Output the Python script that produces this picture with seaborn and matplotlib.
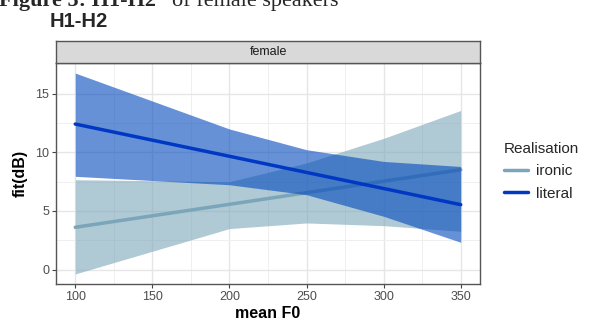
import matplotlib
matplotlib.use("Agg")
import matplotlib.pyplot as plt
import numpy as np
import pandas as pd
import seaborn as sns

# effect estimates
mean_f0 = [100, 200, 250, 300, 350]
ironic_fit = [3.61, 5.57, 6.56, 7.54, 8.52]
ironic_lower = [-0.37, 3.50, 3.98, 3.75, 3.27]
ironic_upper = [7.67, 7.50, 9.10, 11.20, 13.58]
literal_fit = [12.42, 9.67, 8.29, 6.92, 5.54]
literal_lower = [7.96, 7.24, 6.39, 4.55, 2.33]
literal_upper = [16.77, 12.00, 10.23, 9.23, 8.80]

realisations = ["ironic", "literal"]
line_colors = {"ironic": "#7BA5B9", "literal": "#0038C4"}
fill_colors = {"ironic": "#7BA5B9", "literal": "#0048BC"}
layer = {"ironic": 1.5, "literal": 2.5}

df = pd.concat(
    [
        pd.DataFrame({"mean F0": mean_f0, "fit": ironic_fit, "lower": ironic_lower,
                      "upper": ironic_upper, "Realisation": "ironic"}),
        pd.DataFrame({"mean F0": mean_f0, "fit": literal_fit, "lower": literal_lower,
                      "upper": literal_upper, "Realisation": "literal"}),
    ],
    ignore_index=True,
)

sns.set_theme(style="white")
plt.rcParams["font.family"] = ["Liberation Sans", "DejaVu Sans"]

W, H = 592, 325
fig = plt.figure(figsize=(W / 100, H / 100), dpi=100)

left, right, top, bottom = 56, 480, 63, 284
ax = fig.add_axes([left / W, (H - bottom) / H, (right - left) / W, (bottom - top) / H])
strip = fig.add_axes([left / W, (H - top) / H, (right - left) / W, 22 / H])

for name in realisations:
    sub = df[df["Realisation"] == name]
    ax.fill_between(sub["mean F0"], sub["lower"], sub["upper"],
                    color=fill_colors[name], alpha=0.6, linewidth=0, zorder=layer[name])
    sns.lineplot(data=sub, x="mean F0", y="fit", color=line_colors[name],
                 linewidth=2.2, ax=ax, label=name, zorder=layer[name] + 0.2)

ax.set_xlim(87.5, 362.5)
ax.set_ylim(-1.23, 17.63)
ax.set_xticks([100, 150, 200, 250, 300, 350])
ax.set_yticks([0, 5, 10, 15])
ax.set_xticks([125, 175, 225, 275, 325], minor=True)
ax.set_yticks([2.5, 7.5, 12.5], minor=True)
ax.grid(True, which="major", color="#E6E6E6", linewidth=1.0, zorder=0)
ax.grid(True, which="minor", color="#EFEFEF", linewidth=0.7, zorder=0)
ax.set_axisbelow(True)
for s in ax.spines.values():
    s.set_color("#555555")
    s.set_linewidth(1.0)
ax.tick_params(axis="both", which="major", length=3, width=0.8, color="#444444",
               labelsize=9, labelcolor="#4D4D4D", pad=2, bottom=True, left=True)
ax.tick_params(axis="both", which="minor", length=0)
ax.set_xlabel("mean F0", fontsize=11.5, fontweight="bold", color="black", labelpad=2)
ax.set_ylabel("fit(dB)", fontsize=11.5, fontweight="bold", color="black", labelpad=5)

strip.set_facecolor("#D9D9D9")
strip.set_xticks([])
strip.set_yticks([])
for s in strip.spines.values():
    s.set_color("#555555")
    s.set_linewidth(1.0)
strip.text(0.5, 0.5, "female", ha="center", va="center", fontsize=9, color="#1A1A1A")

handles, labels = ax.get_legend_handles_labels()
for h in handles:
    h.set_linewidth(2.5)
if ax.legend_:
    ax.legend_.remove()
fig.legend(handles, labels, title="Realisation", loc="upper left",
           bbox_to_anchor=(490 / W, 1 - 128 / H), frameon=False,
           fontsize=11, title_fontsize=11, handlelength=1.6,
           handletextpad=0.5, labelspacing=0.55, alignment="left")

fig.text(50 / W, 1 - 27 / H, "H1-H2", fontsize=14.5, fontweight="bold", va="baseline")
fig.text(-1 / W, 1 - 6 / H, "Figure 5: H1-H2", fontsize=16, fontweight="bold",
         family="Liberation Serif", va="baseline")
fig.text(172 / W, 1 - 6 / H, "of female speakers", fontsize=16,
         family="Liberation Serif", va="baseline")

fig.savefig("out.png", dpi=100)
